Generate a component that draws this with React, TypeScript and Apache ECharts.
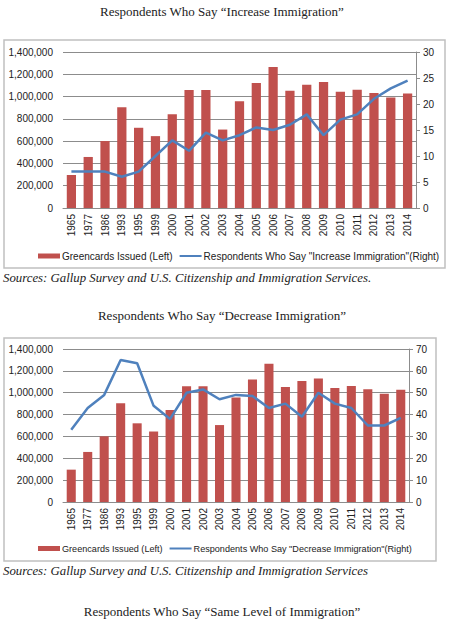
import { useEffect, useRef } from 'react';
import * as echarts from 'echarts';

// survey years (category axis)
const years = [
  '1965', '1977', '1986', '1993', '1995', '1999', '2000', '2001', '2002', '2003', '2004',
  '2005', '2006', '2007', '2008', '2009', '2010', '2011', '2012', '2013', '2014',
];

// greencards issued, same bars in both charts
const greencards = [
  296000, 458000, 601000, 904000, 720000, 645000, 841000, 1059000, 1059000, 704000, 957000,
  1122000, 1266000, 1052000, 1107000, 1131000, 1043000, 1062000, 1031000, 991000, 1027000,
];

// % who say "increase immigration"
const increasePct = [7, 7, 7, 6, 7, 10, 13, 11, 14.5, 13, 14, 15.5, 15, 16, 18, 14, 17, 18, 21, 23, 24.5];

// % who say "decrease immigration"
const decreasePct = [33, 43, 49, 65, 63.5, 44, 38, 50, 51.5, 47, 49, 48.5, 43, 45, 39, 50, 45, 43, 35, 35, 38.5];

const titles = [
  'Respondents Who Say \u201CIncrease Immigration\u201D',
  'Respondents Who Say \u201CDecrease Immigration\u201D',
  'Respondents Who Say \u201CSame Level of Immigration\u201D',
];
const sources = [
  'Sources: Gallup Survey and U.S. Citizenship and Immigration Services.',
  'Sources: Gallup Survey and U.S. Citizenship and Immigration Services',
];
const barName = 'Greencards Issued (Left)';
const lineNames = [
  'Respondents Who Say "Increase Immigration"(Right)',
  'Respondents Who Say "Decrease Immigration"(Right)',
];

const RED = '#c0504d';
const BLUE = '#4f81bd';
const GRID = '#8c8c8c';
const FONT = 'Liberation Sans, Arial, sans-serif';
const SERIF = 'Liberation Serif, Times New Roman, serif';

const fmt = (v: number) => v.toLocaleString('en-US');

export default function App() {
  const ref = useRef<HTMLDivElement>(null);

  useEffect(() => {
    if (!ref.current) return;
    const chart = echarts.init(ref.current, undefined, { renderer: 'svg' });

    const xAxis = (gridIndex: number) => ({
      type: 'category',
      gridIndex,
      data: years,
      axisLine: { lineStyle: { color: GRID } },
      axisTick: { show: false },
      axisLabel: { rotate: 90, margin: 6, fontSize: 10, fontFamily: FONT, color: '#222' },
    });
    const leftAxis = (gridIndex: number) => ({
      type: 'value',
      gridIndex,
      min: 0,
      max: 1400000,
      interval: 200000,
      axisLine: { show: false },
      axisTick: { show: false },
      axisLabel: { formatter: fmt, margin: 10, fontSize: 10, fontFamily: FONT, color: '#222' },
      splitLine: { lineStyle: { color: GRID } },
    });
    const rightAxis = (gridIndex: number, max: number, interval: number) => ({
      type: 'value',
      gridIndex,
      position: 'right',
      min: 0,
      max,
      interval,
      axisLine: { show: true, lineStyle: { color: GRID } },
      axisTick: { show: true, length: 4, lineStyle: { color: GRID } },
      axisLabel: { margin: 7, fontSize: 10, fontFamily: FONT, color: '#222' },
      splitLine: { show: false },
    });
    const legend = (top: number, lineName: string, size: number) => ({
      left: 33,
      top,
      itemWidth: 22,
      itemHeight: 5,
      itemGap: 6,
      selectedMode: false,
      textStyle: { fontSize: size, fontFamily: FONT, color: '#222', padding: [0, 0, 0, -3] },
      data: [
        { name: barName, icon: 'rect' },
        { name: lineName, itemStyle: { opacity: 0 }, lineStyle: { width: 2 } },
      ],
    });

    chart.setOption({
      animation: false,
      backgroundColor: '#fff',
      grid: [
        { left: 63, right: 34, top: 52, height: 156 },
        { left: 63, right: 41, top: 349, height: 153 },
      ],
      xAxis: [xAxis(0), xAxis(1)],
      yAxis: [leftAxis(0), rightAxis(0, 30, 5), leftAxis(1), rightAxis(1, 70, 10)],
      legend: [legend(246, lineNames[0], 10), legend(539, lineNames[1], 9.1)],
      series: [
        {
          type: 'bar', name: barName, xAxisIndex: 0, yAxisIndex: 0, data: greencards,
          barWidth: '55%', itemStyle: { color: RED },
        },
        {
          type: 'line', name: lineNames[0], xAxisIndex: 0, yAxisIndex: 1, data: increasePct,
          symbol: 'none', lineStyle: { color: BLUE, width: 2.5 }, itemStyle: { color: BLUE },
        },
        {
          type: 'bar', name: barName, xAxisIndex: 1, yAxisIndex: 2, data: greencards,
          barWidth: '55%', itemStyle: { color: RED },
        },
        {
          type: 'line', name: lineNames[1], xAxisIndex: 1, yAxisIndex: 3, data: decreasePct,
          symbol: 'none', lineStyle: { color: BLUE, width: 2.5 }, itemStyle: { color: BLUE },
        },
      ],
      graphic: [
        { type: 'rect', shape: { x: 4, y: 40, width: 441, height: 228 }, style: { fill: 'none', stroke: '#c0c0c0', lineWidth: 1.5 }, z: -1 },
        { type: 'rect', shape: { x: 4, y: 338, width: 432, height: 223 }, style: { fill: 'none', stroke: '#c0c0c0', lineWidth: 1.5 }, z: -1 },
        { type: 'text', x: 222, y: 11, style: { text: titles[0], font: `13px ${SERIF}`, fill: '#222', textAlign: 'center', textVerticalAlign: 'middle' } },
        { type: 'text', x: 222, y: 315, style: { text: titles[1], font: `13px ${SERIF}`, fill: '#222', textAlign: 'center', textVerticalAlign: 'middle' } },
        { type: 'text', x: 222, y: 611, style: { text: titles[2], font: `13px ${SERIF}`, fill: '#222', textAlign: 'center', textVerticalAlign: 'middle' } },
        { type: 'text', x: 3, y: 278, style: { text: sources[0], font: `italic 12.8px ${SERIF}`, fill: '#222', textVerticalAlign: 'middle' } },
        { type: 'text', x: 3, y: 571, style: { text: sources[1], font: `italic 12.8px ${SERIF}`, fill: '#222', textVerticalAlign: 'middle' } },
      ],
    });

    return () => chart.dispose();
  }, []);

  return <div ref={ref} style={{ position: 'absolute', left: 0, top: 0, width: 450, height: 619 }} />;
}
